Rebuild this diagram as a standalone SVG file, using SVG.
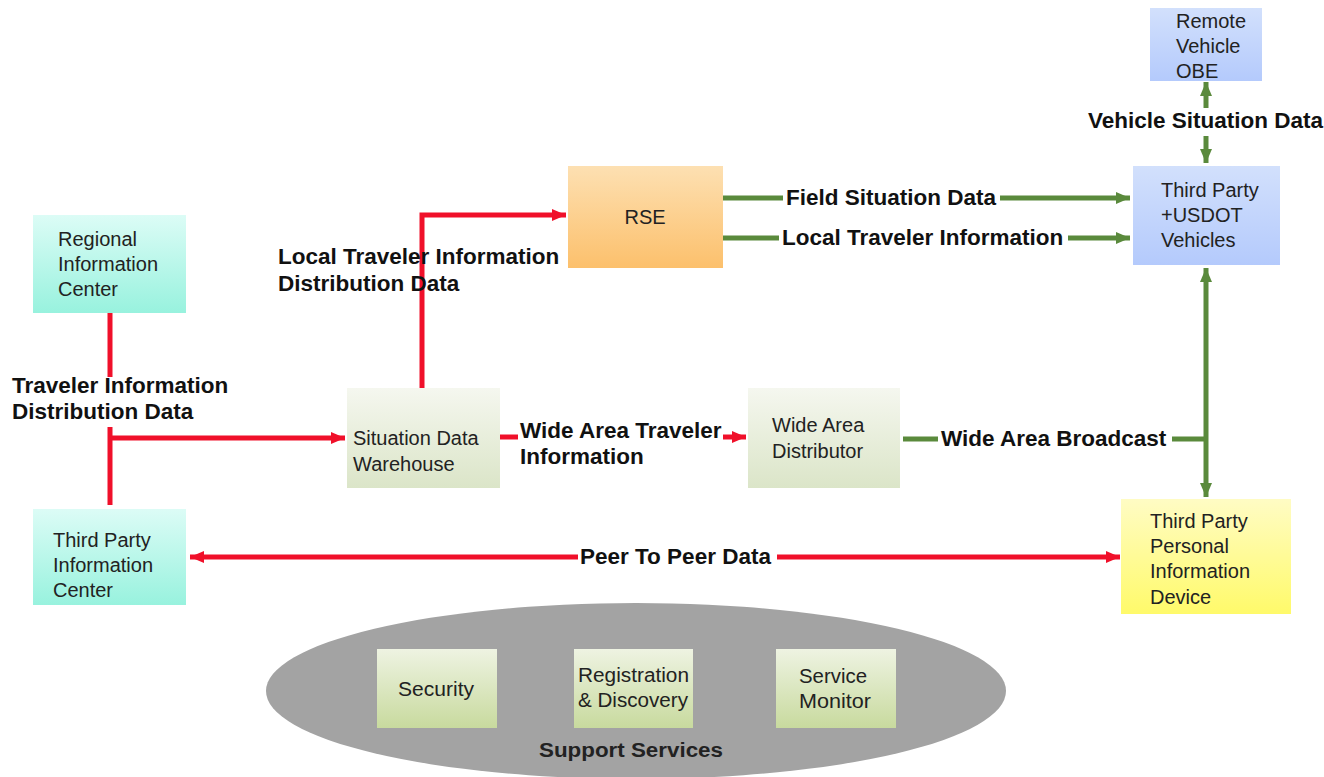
<svg xmlns="http://www.w3.org/2000/svg" width="1324" height="777" viewBox="0 0 1324 777">
<style>
.nt{font-family:"Liberation Sans",Arial,sans-serif;font-size:20px;fill:#222}
.st{font-family:"Liberation Sans Narrow","Liberation Sans",Arial,sans-serif;font-size:20px;fill:#222}
.lb{font-family:"Liberation Sans",Arial,sans-serif;font-size:22.5px;font-weight:bold;fill:#111}
.red{stroke:#f0102a;stroke-width:5;fill:none}
.grn{stroke:#5a8a3c;stroke-width:5;fill:none}
</style>
<defs>
<linearGradient id="gBlue" x1="0" y1="0" x2="0" y2="1"><stop offset="0" stop-color="#d2e0fc"/><stop offset="1" stop-color="#b4cafc"/></linearGradient>
<linearGradient id="gCyan" x1="0" y1="0" x2="0" y2="1"><stop offset="0" stop-color="#dcfcf6"/><stop offset="1" stop-color="#98f2de"/></linearGradient>
<linearGradient id="gOr" x1="0" y1="0" x2="0" y2="1"><stop offset="0" stop-color="#fde0b2"/><stop offset="1" stop-color="#fcc06c"/></linearGradient>
<linearGradient id="gGr" x1="0" y1="0" x2="0" y2="1"><stop offset="0" stop-color="#f5f7ef"/><stop offset="1" stop-color="#dbe5c8"/></linearGradient>
<linearGradient id="gGr2" x1="0" y1="0" x2="0" y2="1"><stop offset="0" stop-color="#eef3e2"/><stop offset="1" stop-color="#c8da9e"/></linearGradient>
<linearGradient id="gY" x1="0" y1="0" x2="0" y2="1"><stop offset="0" stop-color="#fffcc4"/><stop offset="1" stop-color="#fffa6a"/></linearGradient>
<marker id="ar" markerUnits="userSpaceOnUse" markerWidth="16" markerHeight="14" refX="14" refY="7" orient="auto-start-reverse"><path d="M0,1 L14,7 L0,13 Z" fill="#f0102a"/></marker>
<marker id="ag" markerUnits="userSpaceOnUse" markerWidth="16" markerHeight="14" refX="14" refY="7" orient="auto-start-reverse"><path d="M0,1 L14,7 L0,13 Z" fill="#5a8a3c"/></marker>
</defs>
<rect width="1324" height="777" fill="#fff"/>

<g id="support-services">
<ellipse cx="636" cy="691" rx="370" ry="88" fill="#a3a3a3"/>
<text class="st" x="631" y="757" text-anchor="middle" font-weight="bold" textLength="184" lengthAdjust="spacingAndGlyphs">Support Services</text>
</g>
<g id="security"><rect x="377" y="649" width="120" height="79" fill="url(#gGr2)"/><text class="st" x="436" y="696" text-anchor="middle" textLength="76" lengthAdjust="spacingAndGlyphs">Security</text></g>
<g id="registration"><rect x="574" y="649" width="119" height="79" fill="url(#gGr2)"/><text class="st" x="578" y="682" textLength="111" lengthAdjust="spacingAndGlyphs">Registration</text><text class="st" x="578" y="707" textLength="110" lengthAdjust="spacingAndGlyphs">&amp; Discovery</text></g>
<g id="service-monitor"><rect x="776" y="649" width="120" height="79" fill="url(#gGr2)"/><text class="st" x="799" y="683" textLength="68" lengthAdjust="spacingAndGlyphs">Service</text><text class="st" x="799" y="708" textLength="72" lengthAdjust="spacingAndGlyphs">Monitor</text></g>

<g id="connectors">
<path class="red" d="M110,313 V377 M110,427 V505"/>
<path class="red" d="M110,438 H345" marker-end="url(#ar)"/>
<path class="red" d="M422,388 V215 H566" marker-end="url(#ar)"/>
<path class="red" d="M500,437 H518"/>
<path class="red" d="M723,437 H746" marker-end="url(#ar)"/>
<path class="red" d="M578,557 H190" marker-end="url(#ar)"/>
<path class="red" d="M777,557 H1120" marker-end="url(#ar)"/>
<path class="grn" d="M723,198 H783"/>
<path class="grn" d="M1000,198 H1130" marker-end="url(#ag)"/>
<path class="grn" d="M723,238 H779"/>
<path class="grn" d="M1068,238 H1130" marker-end="url(#ag)"/>
<path class="grn" d="M1206,108 V82" marker-end="url(#ag)"/>
<path class="grn" d="M1206,136 V163" marker-end="url(#ag)"/>
<path class="grn" d="M903,439 H938"/>
<path class="grn" d="M1172,439 H1206"/>
<path class="grn" d="M1206,439 V268" marker-end="url(#ag)"/>
<path class="grn" d="M1206,439 V497" marker-end="url(#ag)"/>
<text class="lb" x="1088" y="128">Vehicle Situation Data</text>
<text class="lb" x="786" y="205">Field Situation Data</text>
<text class="lb" x="782" y="245">Local Traveler Information</text>
<text class="lb" x="278" y="264">Local Traveler Information</text>
<text class="lb" x="278" y="291">Distribution Data</text>
<text class="lb" x="12" y="393">Traveler Information</text>
<text class="lb" x="12" y="419">Distribution Data</text>
<text class="lb" x="520" y="438">Wide Area Traveler</text>
<text class="lb" x="520" y="464">Information</text>
<text class="lb" x="941" y="446">Wide Area Broadcast</text>
<text class="lb" x="580" y="564">Peer To Peer Data</text>
</g>

<g id="remote-vehicle-obe"><rect x="1150" y="8" width="112" height="73" fill="url(#gBlue)"/><text class="nt" x="1176" y="28">Remote</text><text class="nt" x="1176" y="53">Vehicle</text><text class="nt" x="1176" y="78">OBE</text></g>
<g id="third-party-vehicles"><rect x="1133" y="166" width="147" height="99" fill="url(#gBlue)"/><text class="nt" x="1161" y="197">Third Party</text><text class="nt" x="1161" y="222">+USDOT</text><text class="nt" x="1161" y="247">Vehicles</text></g>
<g id="rse"><rect x="568" y="166" width="155" height="102" fill="url(#gOr)"/><text class="nt" x="645" y="224" text-anchor="middle">RSE</text></g>
<g id="regional-information-center"><rect x="33" y="215" width="153" height="98" fill="url(#gCyan)"/><text class="nt" x="58" y="246">Regional</text><text class="nt" x="58" y="271">Information</text><text class="nt" x="58" y="296">Center</text></g>
<g id="situation-data-warehouse"><rect x="347" y="388" width="153" height="100" fill="url(#gGr)"/><text class="nt" x="353" y="445">Situation Data</text><text class="nt" x="353" y="471">Warehouse</text></g>
<g id="wide-area-distributor"><rect x="748" y="388" width="152" height="100" fill="url(#gGr)"/><text class="nt" x="772" y="432">Wide Area</text><text class="nt" x="772" y="458">Distributor</text></g>
<g id="third-party-information-center"><rect x="33" y="509" width="153" height="96" fill="url(#gCyan)"/><text class="nt" x="53" y="547">Third Party</text><text class="nt" x="53" y="572">Information</text><text class="nt" x="53" y="597">Center</text></g>
<g id="third-party-personal-information-device"><rect x="1121" y="499" width="170" height="115" fill="url(#gY)"/><text class="nt" x="1150" y="528">Third Party</text><text class="nt" x="1150" y="553">Personal</text><text class="nt" x="1150" y="578">Information</text><text class="nt" x="1150" y="604">Device</text></g>
</svg>
